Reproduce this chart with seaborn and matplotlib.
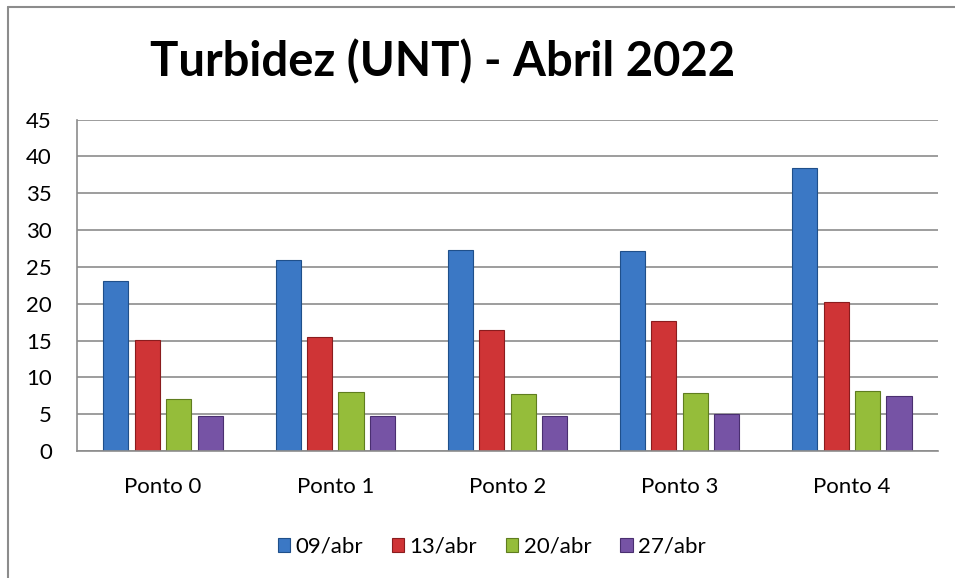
import numpy as np
import pandas as pd
import matplotlib
matplotlib.use('Agg')
import matplotlib.pyplot as plt
import seaborn as sns
from matplotlib.lines import Line2D
from matplotlib.patches import Patch

pontos = ['Ponto 0', 'Ponto 1', 'Ponto 2', 'Ponto 3', 'Ponto 4']
datas = ['09/abr', '13/abr', '20/abr', '27/abr']
abr09 = [23.1, 26.0, 27.3, 27.1, 38.5]
abr13 = [15.1, 15.5, 16.4, 17.6, 20.2]
abr20 = [7.1, 8.0, 7.8, 7.9, 8.2]
abr27 = [4.7, 4.7, 4.8, 5.0, 7.5]
cores = ['#3b78c5', '#cf3436', '#95bd3a', '#7653a5']
bordas = ['#1f4f8a', '#8a1c1e', '#5f7d1f', '#4a2f70']

df = pd.DataFrame({
    'Ponto': pontos * 4,
    'Data': np.repeat(datas, len(pontos)),
    'Turbidez': abr09 + abr13 + abr20 + abr27,
})

sns.set_theme(style='white')
plt.rcParams['font.family'] = ['Lato', 'DejaVu Sans']
plt.rcParams['text.color'] = 'black'

fig = plt.figure(figsize=(9.55, 5.78), dpi=100)
ax = fig.add_axes([0.0806, 0.2197, 0.9015, 0.5733])

sns.barplot(data=df, x='Ponto', y='Turbidez', hue='Data', palette=cores,
            width=0.73, gap=0.2, saturation=1, ax=ax, legend=False)

# darker outline per series
for cont, cor in zip(ax.containers, bordas):
    for bar in cont:
        bar.set_edgecolor(cor)
        bar.set_linewidth(0.8)

ax.set_ylim(0, 45)
ax.set_yticks(range(0, 46, 5))
ax.set_xlim(-0.5, 4.5)
ax.yaxis.grid(True, color='#8c8c8c', linewidth=1.2)
ax.set_axisbelow(True)
ax.set_xlabel('')
ax.set_ylabel('')
for s in ['top', 'right']:
    ax.spines[s].set_visible(False)
for s in ['left', 'bottom']:
    ax.spines[s].set_color('#8c8c8c')
    ax.spines[s].set_linewidth(1.2)
ax.tick_params(axis='y', length=0, pad=18, labelsize=16, labelcolor='black')
ax.tick_params(axis='x', length=0, pad=19, labelsize=16, labelcolor='black')

fig.text(0.463, 0.893, 'Turbidez (UNT) - Abril 2022', ha='center', va='center',
         fontsize=34, fontweight='bold', color='black')

handles = [Patch(facecolor=c, edgecolor=b, linewidth=0.8) for c, b in zip(cores, bordas)]
fig.legend(handles, datas, loc='center', bbox_to_anchor=(0.515, 0.054), ncol=4,
           frameon=False, fontsize=16, handlelength=0.55, handleheight=0.55,
           handletextpad=0.25, columnspacing=1.3)

# chart border (top and left visible)
fig.add_artist(Line2D([7.5 / 955, 7.5 / 955], [0, 1 - 6.5 / 578],
                      transform=fig.transFigure, color='#8c8c8c', linewidth=1.5))
fig.add_artist(Line2D([7.5 / 955, 1], [1 - 6.5 / 578, 1 - 6.5 / 578],
                      transform=fig.transFigure, color='#8c8c8c', linewidth=1.5))

fig.savefig('out.png', dpi=100)
